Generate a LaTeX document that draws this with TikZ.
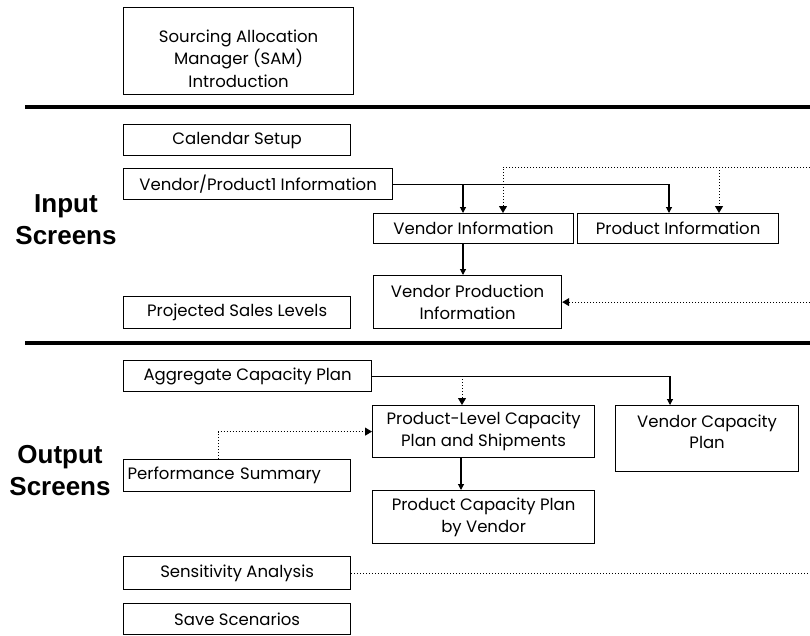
\documentclass[tikz,border=0pt]{standalone}
\usepackage{fontspec}
\setmainfont{Poppins}
\newfontfamily\headfont{Liberation Sans}
\usetikzlibrary{calc, arrows.meta}

\begin{document}
\begin{tikzpicture}[x=1pt, y=-1pt,
    box/.style={draw, line width=1.2pt, anchor=north west, inner sep=2pt, align=center,
        font=\fontsize{16.5}{21.5}\selectfont},
    conn/.style={line width=1.1pt, -{Triangle[width=6pt,length=6pt]}},
    dots/.style={line width=1pt, dotted, -{Triangle[width=8pt,length=7pt]}},
    rule/.style={line width=3.5pt},
    head/.style={align=center, font=\headfont\bfseries\fontsize{26}{32}\selectfont}]
    \useasboundingbox (0,0) rectangle (810,635);

    \node[box, minimum width=230, minimum height=87, font=\fontsize{16.5}{22.5}\selectfont] (sam) at (123,7)
        {\rule{0pt}{27pt}Sourcing Allocation\\Manager (SAM)\\Introduction};
    \draw[rule] (25,107) -- (810,107);

    % input screens
    \node[head] (input) at (66,220) {Input\\Screens};
    \node[box, minimum width=227, minimum height=31] (cal) at (123,124) {Calendar Setup};
    \node[box, minimum width=269, minimum height=31] (vpi) at (123,168) {Vendor/Product1 Information};
    \node[box, minimum width=200, minimum height=30] (vinfo) at (373,213) {Vendor Information};
    \node[box, minimum width=201, minimum height=30] (pinfo) at (577,213) {Product Information};
    \node[box, minimum width=188, minimum height=53] (vprod) at (373,275) {Vendor Production\\Information};
    \node[box, minimum width=227, minimum height=32] (psl) at (123,296) {Projected Sales Levels};

    \coordinate (inR) at (810,167);
    \coordinate (vpR) at (810,0);
    \draw[conn] (vpi.east) -| ($(pinfo.north west)+(92,0)$);
    \draw[conn] ($(vpi.east -| vinfo.north west)+(90,0)$) -- ($(vinfo.north west)+(90,0)$);
    \draw[dots] (inR) -| ($(vinfo.north west)+(130,0)$);
    \draw[dots] ($(inR -| pinfo.north west)+(142,0)$) -- ($(pinfo.north west)+(142,0)$);
    \draw[conn] ($(vinfo.south west)+(90,0)$) -- ($(vprod.north west)+(90,0)$);
    \draw[dots] (vpR |- vprod.east) -- (vprod.east);

    \draw[rule] (25,343) -- (810,343);

    % output screens
    \node[head] (output) at (60,471) {Output\\Screens};
    \node[box, minimum width=248, minimum height=31] (acp) at (123,360) {Aggregate Capacity Plan};
    \node[box, minimum width=222, minimum height=52] (plcp) at (372,405) {Product-Level Capacity\\Plan and Shipments};
    \node[box, minimum width=183, minimum height=66,
        label={[align=center, anchor=north, yshift=-6pt, font=\fontsize{16.5}{21.5}\selectfont]north:Vendor Capacity\\Plan}]
        (vcap) at (615,405) {};
    \node[box, minimum width=227, minimum height=32, text width=219, align=left] (perf) at (123,459) {Performance Summary};
    \node[box, minimum width=222, minimum height=53] (pcv) at (372,490) {Product Capacity Plan\\by Vendor};
    \node[box, minimum width=227, minimum height=33] (sens) at (123,556) {Sensitivity Analysis};
    \node[box, minimum width=227, minimum height=31] (save) at (123,603) {Save Scenarios};

    \draw[conn] (acp.east) -| ($(vcap.north west)+(55,0)$);
    \draw[dots] ($(acp.east -| plcp.north west)+(90,0)$) -- ($(plcp.north west)+(90,0)$);
    \draw[conn] ($(plcp.south west)+(89,0)$) -- ($(pcv.north west)+(89,0)$);
    \draw[dots] ($(perf.north west)+(95,0)$) |- (plcp.west);
    \draw[dots, -] (sens.east) -- (vpR |- sens.east);
\end{tikzpicture}
\end{document}
